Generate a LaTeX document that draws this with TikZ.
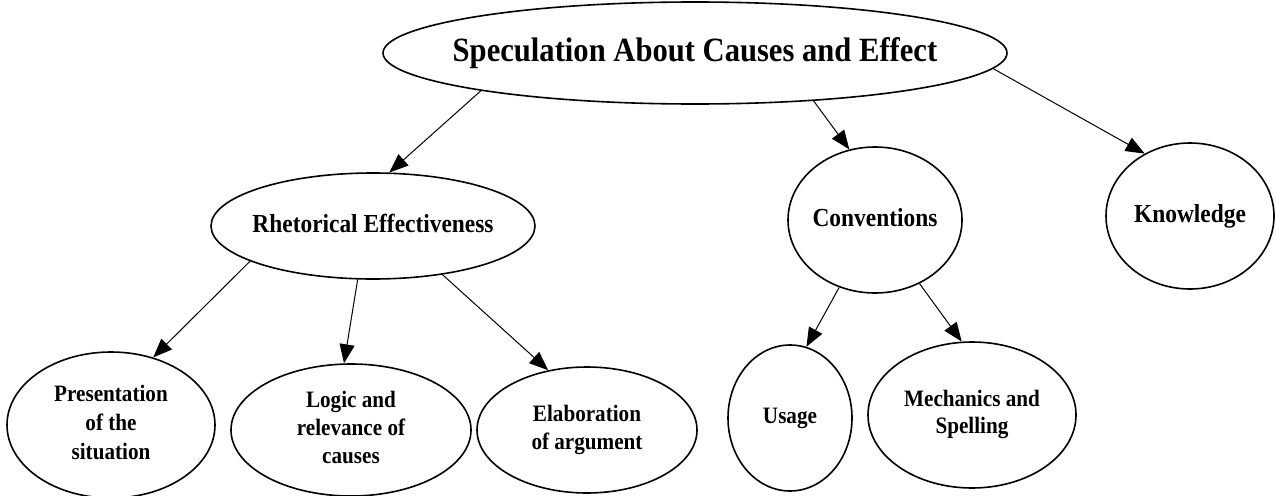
\documentclass[tikz,border=0pt]{standalone}
\usepackage{fontspec}
\newfontfamily\diagfont[FakeStretch=0.9]{Liberation Serif}
\usetikzlibrary{shapes.geometric,arrows.meta}
\newcommand{\lbl}[3]{\makebox[0pt]{\fontsize{#1}{#2}\selectfont\begin{tabular}{@{}c@{}}#3\end{tabular}}}
\begin{document}
\begin{tikzpicture}[x=1pt,y=-1pt,font=\diagfont\bfseries,
		bubble/.style={draw, ellipse, line width=1.6pt, inner sep=0pt},
		link/.style={line width=1pt, -{Triangle[length=19pt,width=15pt]}}]
		\useasboundingbox (0,0) rectangle (1276,495);
		%Top
		\node[bubble, minimum width=624pt, minimum height=102pt] (spec) at (695,53) {\lbl{34pt}{40pt}{Speculation About Causes and Effect}};
		%Middle row
		\node[bubble, minimum width=324pt, minimum height=106pt] (rhet) at (373,226) {\lbl{26pt}{30pt}{Rhetorical Effectiveness}};
		\node[bubble, minimum width=174pt, minimum height=146pt] (conv) at (875,220) {\lbl{26pt}{30pt}{Conventions}};
		\node[bubble, minimum width=168pt, minimum height=146pt] (know) at (1190,216) {\lbl{26pt}{30pt}{Knowledge}};
		%Bottom row
		\node[bubble, minimum width=208pt, minimum height=146pt] (pres) at (111,425) {\lbl{23.5pt}{29pt}{Presentation\\of the\\situation}};
		\node[bubble, minimum width=240pt, minimum height=132pt] (logic) at (351,430) {\lbl{23.5pt}{28pt}{Logic and\\relevance of\\causes}};
		\node[bubble, minimum width=220pt, minimum height=126pt] (elab) at (587,430) {\lbl{23.5pt}{28pt}{Elaboration\\of argument}};
		\node[bubble, minimum width=124pt, minimum height=146pt] (usage) at (790,418) {\lbl{23.5pt}{28pt}{Usage}};
		\node[bubble, minimum width=208pt, minimum height=146pt] (mech) at (972,415) {\lbl{23.5pt}{27pt}{Mechanics and\\Spelling}};
		%Arrows
		\draw[link] (spec.190) -- (rhet.73);
		\draw[link] (spec.338) -- (conv.110);
		\draw[link] (spec.357) -- (know.126);
		\draw[link] (rhet.196) -- (pres.58);
		\draw[link] (rhet.254) -- (logic.96);
		\draw[link] (rhet.325) -- (elab.123);
		\draw[link] (conv.242) -- (usage.77);
		\draw[link] (conv.305) -- (mech.98);
\end{tikzpicture}
\end{document}
